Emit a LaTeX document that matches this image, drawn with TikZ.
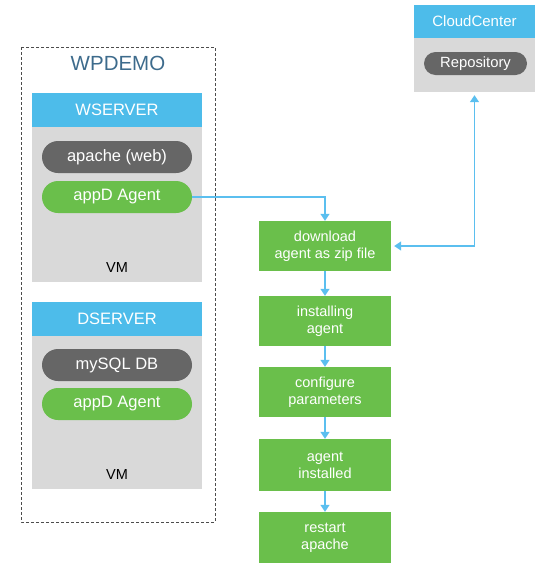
\documentclass[tikz,border=0pt]{standalone}
\usepackage{fontspec}
\setmainfont{Liberation Sans}
\usetikzlibrary{arrows.meta}

\definecolor{hdrblue}{HTML}{4DBCEA}
\definecolor{bodygray}{HTML}{D9D9D9}
\definecolor{pillgray}{HTML}{666666}
\definecolor{agentgreen}{HTML}{6ABF4B}
\definecolor{linkblue}{HTML}{5BBFEF}
\definecolor{titleblue}{HTML}{3D6B8C}

\tikzset{
    header/.style={fill=hdrblue, text=white, minimum width=170pt, minimum height=34pt, inner sep=0pt, font=\fontsize{16.5}{19}\selectfont},
    vmbody/.style={fill=bodygray, minimum width=170pt, inner sep=0pt},
    pill/.style={fill=pillgray, text=white, rounded corners=16pt, minimum width=150pt, minimum height=32pt, inner sep=0pt, font=\fontsize{16.5}{19}\selectfont},
    agentpill/.style={pill, fill=agentgreen},
    stepbox/.style={fill=agentgreen, text=white, minimum width=132pt, minimum height=50pt, inner sep=0pt, align=center, font=\fontsize{14.5}{17}\selectfont},
    flowarrow/.style={draw=linkblue, line width=1.4pt, -{Triangle[length=7pt,width=9pt]}}
}

\begin{document}
\begin{tikzpicture}[x=1pt, y=-1pt]
    \useasboundingbox (0,0) rectangle (550,568);
    % app box
    \draw[densely dashed, draw=black!70, line width=0.8pt] (21,47) rectangle (215,522);
    \node[text=titleblue, font=\fontsize{20.5}{24}\selectfont] (wpdemo) at (118,63) {WPDEMO};
    % web server
    \node[vmbody, minimum height=155pt] (wbody) at (117,204.5) {};
    \node[header] (wserver) at (117,110) {WSERVER};
    \node[pill] (apache) at (117,157) {apache (web)};
    \node[agentpill] (agentw) at (117,197) {appD Agent};
    \node[font=\fontsize{14.5}{17}\selectfont] (vmw) at (117,268) {VM};
    % db server
    \node[vmbody, minimum height=153pt] (dbody) at (117,412.5) {};
    \node[header] (dserver) at (117,319) {DSERVER};
    \node[pill] (mysql) at (117,365) {mySQL DB};
    \node[agentpill] (agentd) at (117,404) {appD Agent};
    \node[font=\fontsize{14.5}{17}\selectfont] (vmd) at (117,475) {VM};
    % cloudcenter
    \node[vmbody, minimum width=121pt, minimum height=54pt] (cloudbody) at (474.5,65) {};
    \node[header, minimum width=121pt, minimum height=33pt, font=\fontsize{15}{18}\selectfont] (cloud) at (474.5,21.5) {CloudCenter};
    \node[pill, rounded corners=11.5pt, minimum width=103pt, minimum height=23pt, font=\fontsize{14.8}{17}\selectfont] (repo) at (475.5,63.5) {Repository};
    % install steps
    \node[stepbox] (download) at (325,246) {download\\agent as zip file};
    \node[stepbox] (installing) at (325,321) {installing\\agent};
    \node[stepbox] (configure) at (325,392) {configure\\parameters};
    \node[stepbox, minimum height=52pt] (installed) at (325,465) {agent\\installed};
    \node[stepbox, minimum height=51pt] (restart) at (325,537.5) {restart\\apache};
    % links
    \draw[flowarrow] (agentw.east) -| (download.north);
    \draw[flowarrow] (download) -- (installing);
    \draw[flowarrow] (installing) -- (configure);
    \draw[flowarrow] (configure) -- (installed);
    \draw[flowarrow] (installed) -- (restart);
    \draw[flowarrow, {Triangle[length=7pt,width=9pt]}-{Triangle[length=7pt,width=9pt]}, shorten <=3pt, shorten >=3pt] (download.east) -| (cloudbody.south);
\end{tikzpicture}
\end{document}
